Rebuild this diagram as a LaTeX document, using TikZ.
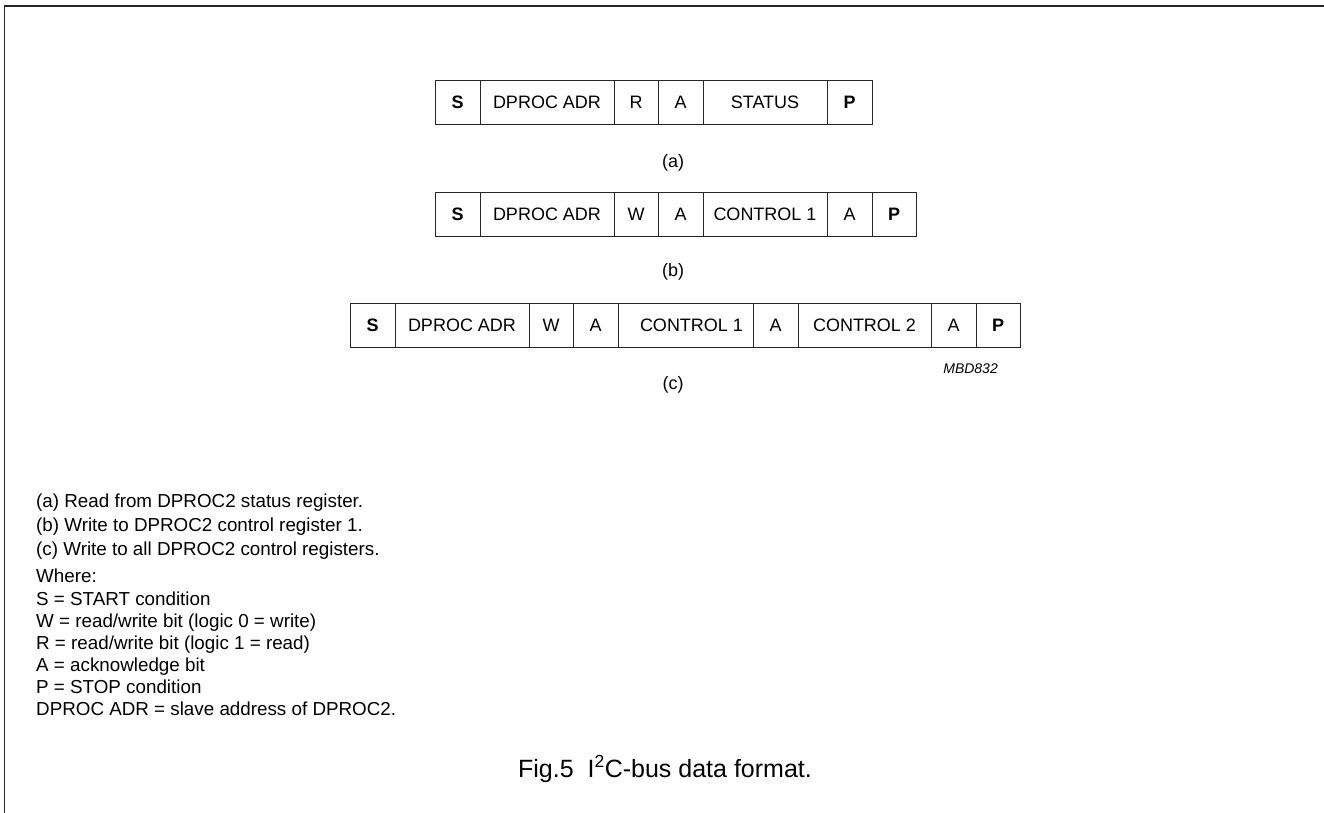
\documentclass[tikz,border=0pt]{standalone}
\usepackage{fontspec}
\setmainfont{Liberation Sans}
\begin{document}
\begin{tikzpicture}[x=1pt,y=-1pt,
  cell/.style={draw=black!85, line width=0.9pt, minimum height=44pt, inner sep=0pt, outer sep=0pt, anchor=west, font=\fontsize{18}{20}\selectfont},
  bcell/.style={cell, font=\fontsize{18}{20}\selectfont\bfseries},
  lbl/.style={font=\fontsize{18}{20}\selectfont, inner sep=0pt},
  note/.style={font=\fontsize{18.8}{21}\selectfont, inner sep=0pt, anchor=base west},
  codetext/.style={font=\fontsize{14}{16}\selectfont\itshape, inner sep=0pt, anchor=east},
  captext/.style={font=\fontsize{25}{28}\selectfont, inner sep=0pt, anchor=base}]
\useasboundingbox (0,0) rectangle (1324,813);
\draw[line width=1.7pt, black!85] (1324,6) -- (4.5,6) -- (4.5,813);
% row (a)
\node[bcell, minimum width=45pt]  (a1) at (435,102) {S};
\node[cell,  minimum width=134pt] (a2) at (480,102) {DPROC ADR};
\node[cell,  minimum width=44pt]  (a3) at (614,102) {R};
\node[cell,  minimum width=45pt]  (a4) at (658,102) {A};
\node[cell,  minimum width=124pt] (a5) at (703,102) {STATUS};
\node[bcell, minimum width=45pt]  (a6) at (827,102) {P};
\node[lbl] (la) at (673,163) {(a)};
% row (b)
\node[bcell, minimum width=45pt]  (b1) at (435,214) {S};
\node[cell,  minimum width=134pt] (b2) at (480,214) {DPROC ADR};
\node[cell,  minimum width=44pt]  (b3) at (614,214) {W};
\node[cell,  minimum width=45pt]  (b4) at (658,214) {A};
\node[cell,  minimum width=124pt] (b5) at (703,214) {CONTROL 1};
\node[cell,  minimum width=45pt]  (b6) at (827,214) {A};
\node[bcell, minimum width=44pt]  (b7) at (872,214) {P};
\node[lbl] (lb) at (673,272) {(b)};
% row (c)
\node[bcell, minimum width=45pt]  (c1) at (350,325) {S};
\node[cell,  minimum width=134pt] (c2) at (395,325) {DPROC ADR};
\node[cell,  minimum width=44pt]  (c3) at (529,325) {W};
\node[cell,  minimum width=45pt]  (c4) at (573,325) {A};
\node[cell,  minimum width=135pt] (c5) at (618,325) {\hspace{12pt}CONTROL 1};
\node[cell,  minimum width=45pt]  (c6) at (753,325) {A};
\node[cell,  minimum width=133pt] (c7) at (798,325) {CONTROL 2};
\node[cell,  minimum width=45pt]  (c8) at (931,325) {A};
\node[bcell, minimum width=44pt]  (c9) at (976,325) {P};
\node[codetext] (mbd) at (998,369) {MBD832};
\node[lbl] (lc) at (673,385) {(c)};
% notes
\node[note] (n1) at (36,507) {(a) Read from DPROC2 status register.};
\node[note] (n2) at (36,531) {(b) Write to DPROC2 control register 1.};
\node[note] (n3) at (36,555) {(c) Write to all DPROC2 control registers.};
\node[note] (n4) at (36,582) {Where:};
\node[note] (n5) at (36,605) {S = START condition};
\node[note] (n6) at (36,627) {W = read/write bit (logic 0 = write)};
\node[note] (n7) at (36,649) {R = read/write bit (logic 1 = read)};
\node[note] (n8) at (36,671) {A = acknowledge bit};
\node[note] (n9) at (36,693) {P = STOP condition};
\node[note] (n10) at (36,715) {DPROC ADR = slave address of DPROC2.};
% caption
\node[captext] (fig) at (665,777) {Fig.5\ \ I\textsuperscript{2}C-bus data format.};
\end{tikzpicture}
\end{document}
